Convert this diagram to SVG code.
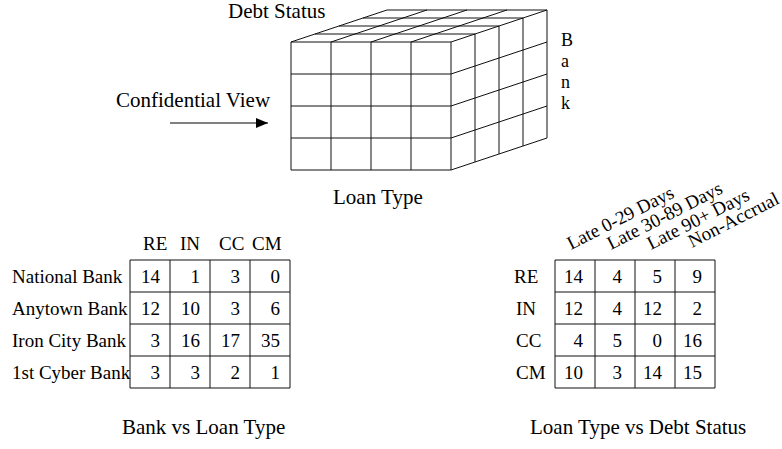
<svg xmlns="http://www.w3.org/2000/svg" width="782" height="449" viewBox="0 0 782 449" font-family="Liberation Serif, serif">
  <style>
    text { font-family: 'Liberation Serif', 'Times New Roman', 'DejaVu Serif', serif; font-size: 19px; fill: #000; }
    .big { font-size: 21px; }
    .axis { font-size: 18px; }
    .grid { stroke: #111; stroke-width: 1; fill: none; }
    .num { text-anchor: end; }
  </style>
  <defs>
    <marker id="head" viewBox="0 0 12 10" refX="12" refY="5" markerWidth="12" markerHeight="10" markerUnits="userSpaceOnUse" orient="auto">
      <path d="M0,0 L12,5 L0,10 Z" fill="#000"/>
    </marker>
  </defs>
  <rect width="782" height="449" fill="#fff"/>

  <!-- data cube: front face 4x4, depth 4 slices -->
  <g id="cube" class="grid">
    <!-- front face -->
    <path d="M291,42 H451 V170 H291 Z M291,74 H451 M291,106 H451 M291,138 H451 M331,42 V170 M371,42 V170 M411,42 V170"/>
    <!-- top face -->
    <path d="M291,42 L387,10 M331,42 L427,10 M371,42 L467,10 M411,42 L507,10 M451,42 L547,10
             M315,34 H475 M339,26 H499 M363,18 H523 M387,10 H547"/>
    <!-- right face -->
    <path d="M451,74 L547,42 M451,106 L547,74 M451,138 L547,106 M451,170 L547,138
             M475,34 V162 M499,26 V154 M523,18 V146 M547,10 V138"/>
  </g>

  <g id="cube-labels">
    <text class="big" x="228" y="18">Debt Status</text>
    <text class="big" x="333" y="204">Loan Type</text>
    <!-- vertical axis name, one letter per line -->
    <text class="axis" x="561" y="46">B</text>
    <text class="axis" x="561" y="67">a</text>
    <text class="axis" x="561" y="88">n</text>
    <text class="axis" x="561" y="109">k</text>
  </g>

  <g id="view-label">
    <text class="big" x="116" y="107">Confidential View</text>
  </g>

  <g id="connectors">
    <line x1="170" y1="123" x2="268" y2="123" stroke="#000" stroke-width="1" marker-end="url(#head)"/>
  </g>

  <!-- Bank vs Loan Type -->
  <g id="bank-loan-table">
    <text x="143" y="250">RE</text>
    <text x="180" y="250">IN</text>
    <text x="219" y="250">CC</text>
    <text x="252" y="250">CM</text>
    <path class="grid" d="M130,260 H290 V388 H130 Z M130,292 H290 M130,324 H290 M130,356 H290 M170,260 V388 M210,260 V388 M250,260 V388"/>
    <text x="12" y="283">National Bank</text>
    <text x="12" y="315">Anytown Bank</text>
    <text x="12" y="347">Iron City Bank</text>
    <text x="12" y="379">1st Cyber Bank</text>
    <g class="num">
      <text x="160" y="283">14</text><text x="200" y="283">1</text><text x="240" y="283">3</text><text x="280" y="283">0</text>
      <text x="160" y="315">12</text><text x="200" y="315">10</text><text x="240" y="315">3</text><text x="280" y="315">6</text>
      <text x="160" y="347">3</text><text x="200" y="347">16</text><text x="240" y="347">17</text><text x="280" y="347">35</text>
      <text x="160" y="379">3</text><text x="200" y="379">3</text><text x="240" y="379">2</text><text x="280" y="379">1</text>
    </g>
    <text class="big" x="122" y="434">Bank vs Loan Type</text>
  </g>

  <!-- Loan Type vs Debt Status -->
  <g id="loan-debt-table">
    <text transform="translate(571,250) rotate(-27)">Late 0-29 Days</text>
    <text transform="translate(611,250) rotate(-27)">Late 30-89 Days</text>
    <text transform="translate(651,250) rotate(-27)">Late 90+ Days</text>
    <text transform="translate(692,248) rotate(-27)">Non-Accrual</text>
    <path class="grid" d="M555,260 H715 V388 H555 Z M555,292 H715 M555,324 H715 M555,356 H715 M595,260 V388 M635,260 V388 M675,260 V388"/>
    <text x="514" y="283">RE</text>
    <text x="516" y="315">IN</text>
    <text x="516" y="347">CC</text>
    <text x="516" y="379">CM</text>
    <g class="num">
      <text x="583" y="283">14</text><text x="622" y="283">4</text><text x="662" y="283">5</text><text x="702" y="283">9</text>
      <text x="583" y="315">12</text><text x="622" y="315">4</text><text x="662" y="315">12</text><text x="702" y="315">2</text>
      <text x="583" y="347">4</text><text x="622" y="347">5</text><text x="662" y="347">0</text><text x="702" y="347">16</text>
      <text x="583" y="379">10</text><text x="622" y="379">3</text><text x="662" y="379">14</text><text x="702" y="379">15</text>
    </g>
    <text class="big" x="530" y="434">Loan Type vs Debt Status</text>
  </g>
</svg>
